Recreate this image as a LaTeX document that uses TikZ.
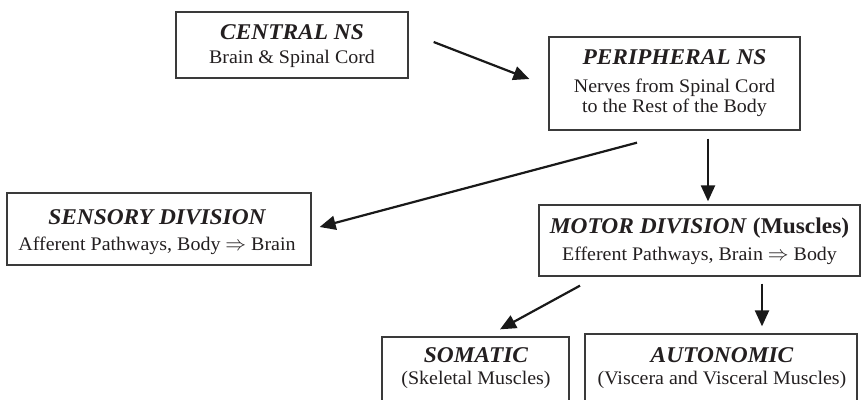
\documentclass[tikz,border=0pt]{standalone}
\usepackage{fontspec}
\setmainfont{Liberation Serif}[FakeStretch=1.04]
\usetikzlibrary{arrows.meta}
\definecolor{ink}{HTML}{231F20}
\definecolor{edge}{HTML}{3A3A3A}
\begin{document}
\begin{tikzpicture}[x=1pt,y=-1pt,
  box/.style={draw=edge,line width=1.3pt,inner sep=0pt},
  ttl/.style={font=\fontsize{22.5}{26}\selectfont\bfseries\itshape,text=ink,inner sep=0pt,anchor=base},
  sub/.style={font=\fontsize{19.2}{22}\selectfont,text=ink,inner sep=0pt,anchor=base},
  arr/.style={draw=black!90,line width=2.2pt,-{Triangle[length=16pt,width=14pt]}}]
\useasboundingbox (0,0) rectangle (864,399);
\fill[white] (0,0) rectangle (864,399);
\begin{scope}
\clip (0,0) rectangle (864,399);
% boxes
\node[box,minimum width=232pt,minimum height=66pt] (central) at (292,45) {};
\node[box,minimum width=251pt,minimum height=93pt] (peripheral) at (674.5,83.5) {};
\node[box,minimum width=304pt,minimum height=72pt] (sensory) at (159,229) {};
\node[box,minimum width=321pt,minimum height=71pt] (motor) at (699.5,240.5) {};
\node[box,minimum width=187pt,minimum height=120pt] (somatic) at (475.5,397) {};
\node[box,minimum width=272pt,minimum height=120pt] (autonomic) at (721,394) {};
% texts
\node[ttl] (centralT) at (292,39) {CENTRAL NS};
\node[sub] (centralS) at (292,63) {Brain \& Spinal Cord};
\node[ttl] (peripheralT) at (674.5,64) {PERIPHERAL NS};
\node[sub] (peripheralS1) at (674.5,92) {Nerves from Spinal Cord};
\node[sub] (peripheralS2) at (674.5,112) {to the Rest of the Body};
\node[ttl] (sensoryT) at (157,224) {SENSORY DIVISION};
\node[sub] (sensoryS) at (157,250) {Afferent Pathways, Body $\Rightarrow$ Brain};
\node[ttl] (motorT) at (699.5,233) {MOTOR DIVISION \textup{(Muscles)}};
\node[sub] (motorS) at (699.5,260) {Efferent Pathways, Brain $\Rightarrow$ Body};
\node[ttl] (somaticT) at (476,362) {SOMATIC};
\node[sub] (somaticS) at (476,384) {(Skeletal Muscles)};
\node[ttl] (autonomicT) at (722,362) {AUTONOMIC};
\node[sub] (autonomicS) at (722,384) {(Viscera and Visceral Muscles)};
% connectors
\draw[arr] ([shift={(25,-3)}]central.east) -- ([shift={(-19,-4.5)}]peripheral.west);
\draw[arr] ([shift={(-37.5,12)}]peripheral.south) -- ([shift={(8,-2)}]sensory.east);
\draw[arr] ([shift={(33.5,8)}]peripheral.south) -- ([shift={(8.5,-3)}]motor.north);
\draw[arr] ([shift={(-119.5,9)}]motor.south) -- ([shift={(24.5,-7)}]somatic.north);
\draw[arr] ([shift={(62.5,7)}]motor.south) -- ([shift={(41,-7)}]autonomic.north);
\end{scope}
\end{tikzpicture}
\end{document}
